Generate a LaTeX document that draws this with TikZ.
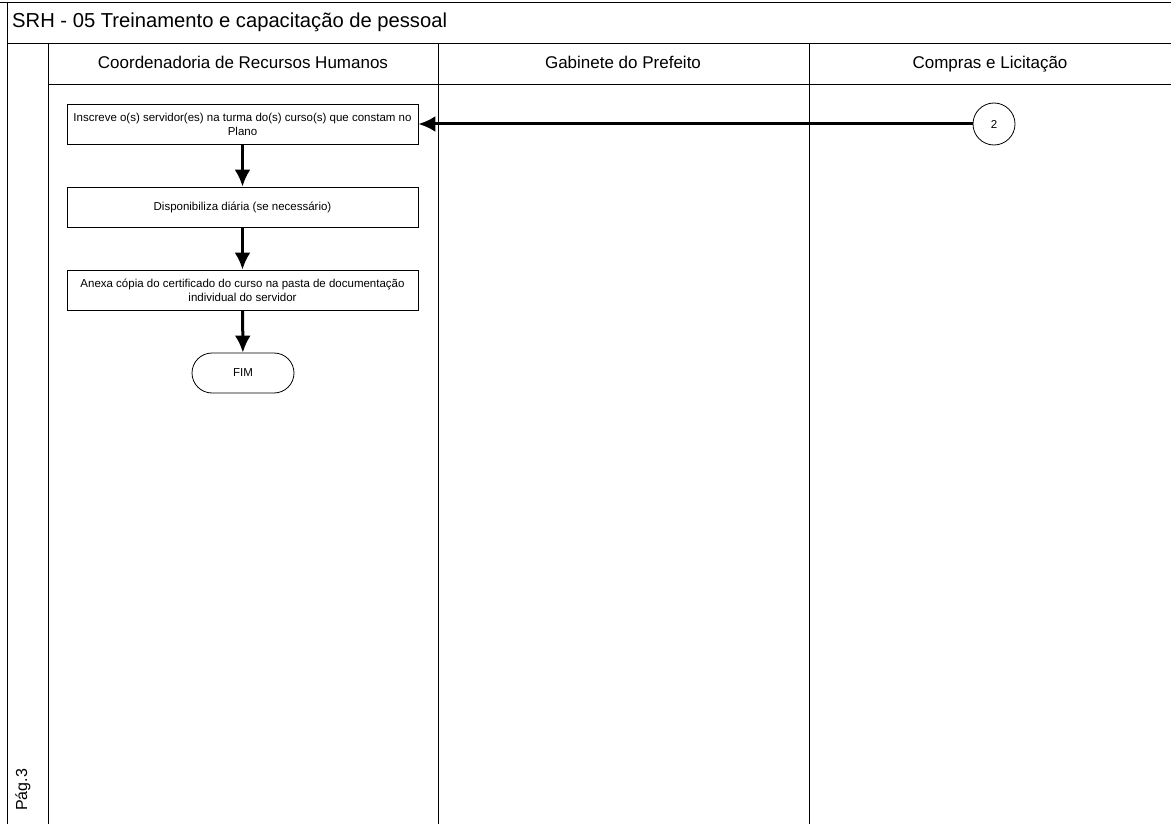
\documentclass[tikz,border=0pt]{standalone}
\usepackage{fontspec}
\setmainfont{Liberation Sans}
\usetikzlibrary{arrows.meta}

\begin{document}
\begin{tikzpicture}[x=1pt,y=-1pt,
    lane/.style={line width=0.8pt},
    task/.style={draw,line width=0.8pt,minimum width=351pt,minimum height=40pt,
      align=center,inner sep=2pt,font=\fontsize{11.5}{14}\selectfont},
    term/.style={draw,line width=0.8pt,rounded corners=20pt,minimum width=102pt,
      minimum height=40pt,font=\fontsize{11.5}{14}\selectfont},
    link/.style={draw,circle,line width=0.8pt,minimum size=42pt,inner sep=0pt,
      font=\fontsize{11.5}{14}\selectfont},
    flow/.style={line width=3pt,-{Latex[length=17pt,width=16pt]}}]
        \useasboundingbox (0,0) rectangle (1171,824);

        % ---- frame and swimlanes ------------------------
        \draw[lane] (0,2) -- (1171,2);
        \draw[lane] (7,2) -- (7,824);
        \draw[lane] (7,43) -- (1171,43);
        \draw[lane] (48,84) -- (1171,84);
        \draw[lane] (48,43) -- (48,824);
        \draw[lane] (438,43) -- (438,824);
        \draw[lane] (809,43) -- (809,824);

        % ---- titles -------------------------------------
        \node[anchor=base west,inner sep=0pt,font=\fontsize{20.2}{24}\selectfont] (title) at (12,28)
          {SRH - 05 Treinamento e capacitação de pessoal};
        \node[anchor=base,inner sep=0pt,font=\fontsize{17}{20}\selectfont] (crh) at (243,69)
          {Coordenadoria de Recursos Humanos};
        \node[anchor=base,inner sep=0pt,font=\fontsize{17}{20}\selectfont] (gab) at (623,69)
          {Gabinete do Prefeito};
        \node[anchor=base,inner sep=0pt,font=\fontsize{17}{20}\selectfont] (cpl) at (990,69)
          {Compras e Licitação};
        \node[rotate=90,inner sep=0pt,font=\fontsize{16}{19}\selectfont] (pag) at (23,790) {Pág.3};

        % ---- activities ---------------------------------
        \node[task] (insc) at (242.5,124)
          {Inscreve o(s) servidor(es) na turma do(s) curso(s) que constam no\\Plano};
        \node[task] (diar) at (242.5,207) {Disponibiliza diária (se necessário)};
        \node[task] (anex) at (242.5,290)
          {Anexa cópia do certificado do curso na pasta de documentação\\individual do servidor};
        \node[term] (fim) at (243,373) {FIM};
        \node[link] (con2) at (994,124) {2};

        % ---- connectors ---------------------------------
        \draw[flow] (con2) -- (insc);
        \draw[flow] (insc) -- (diar);
        \draw[flow] (diar) -- (anex);
        \draw[flow] (anex) -- (fim);
    \end{tikzpicture}
\end{document}
